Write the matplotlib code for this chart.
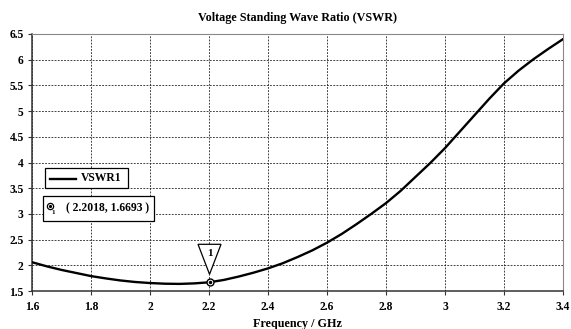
import matplotlib
matplotlib.use("Agg")
import matplotlib.pyplot as plt
from matplotlib.patches import Rectangle, Polygon
from matplotlib.transforms import Affine2D, ScaledTranslation

freq = [1.60, 1.65, 1.70, 1.75, 1.80, 1.85, 1.90, 1.95, 2.00, 2.05, 2.10, 2.15,
        2.20, 2.25, 2.30, 2.35, 2.40, 2.45, 2.50, 2.55, 2.60, 2.65, 2.70, 2.75,
        2.80, 2.85, 2.90, 2.95, 3.00, 3.05, 3.10, 3.15, 3.20, 3.25, 3.30, 3.35, 3.40]
vswr = [2.06, 1.98, 1.91, 1.85, 1.79, 1.745, 1.705, 1.675, 1.655, 1.642, 1.638, 1.648,
        1.669, 1.715, 1.78, 1.855, 1.94, 2.04, 2.16, 2.29, 2.44, 2.61, 2.80, 3.00,
        3.21, 3.45, 3.72, 3.99, 4.28, 4.60, 4.92, 5.24, 5.54, 5.79, 6.01, 6.21, 6.40]
marker_x = 2.2018
marker_y = 1.6693
xticks = [1.6, 1.8, 2.0, 2.2, 2.4, 2.6, 2.8, 3.0, 3.2, 3.4]
xtick_labels = ["1.6", "1.8", "2", "2.2", "2.4", "2.6", "2.8", "3", "3.2", "3.4"]
yticks = [1.5, 2, 2.5, 3, 3.5, 4, 4.5, 5, 5.5, 6, 6.5]
ytick_labels = ["1.5", "2", "2.5", "3", "3.5", "4", "4.5", "5", "5.5", "6", "6.5"]

W, H = 571, 329
plt.rcParams['font.family'] = ['Liberation Serif', 'DejaVu Serif']
plt.rcParams['font.weight'] = 'bold'

fig = plt.figure(figsize=(W / 100, H / 100), dpi=100)
ax = fig.add_axes([32 / W, 1 - 291 / H, (563 - 32) / W, (291 - 34) / H])

ax.plot(freq, vswr, color='black', lw=1.7, solid_capstyle='round', zorder=3)
ax.set_xlim(1.6, 3.4)
ax.set_ylim(1.5, 6.5)
ax.set_xticks(xticks)
ax.set_xticklabels(xtick_labels)
ax.set_yticks(yticks)
ax.set_yticklabels(ytick_labels)
ax.tick_params(axis='both', direction='out', length=3, width=0.8, labelsize=8.3, color='#333333')
ax.tick_params(axis='x', pad=4)
ax.tick_params(axis='y', pad=3)
for lab in ax.get_xticklabels() + ax.get_yticklabels():
    lab.set_fontweight('bold')
ax.grid(True, color='#222222', linestyle=(0, (2.2, 1.6)), linewidth=0.6)
ax.spines['left'].set_color('#333333')
ax.spines['bottom'].set_color('#333333')
ax.spines['left'].set_linewidth(1.1)
ax.spines['bottom'].set_linewidth(1.1)
ax.spines['top'].set_color('#888888')
ax.spines['right'].set_color('#888888')
ax.spines['top'].set_linewidth(0.8)
ax.spines['right'].set_linewidth(0.8)

ax.set_title("Voltage Standing Wave Ratio (VSWR)", fontsize=8.7, fontweight='bold', pad=9)
ax.set_xlabel("Frequency / GHz", fontsize=8.7, fontweight='bold', labelpad=4)

# marker on curve
ax.plot([marker_x], [marker_y], marker='o', ms=5, mfc='white', mec='black', mew=1.0, zorder=5)
ax.plot([marker_x], [marker_y], marker='o', ms=1.5, mfc='black', mec='black', zorder=6)
trans = Affine2D() + ScaledTranslation(marker_x, marker_y, ax.transData)
tri = Polygon([(-11.5, 38), (11.5, 38), (0, 8)], closed=True, facecolor='white',
              edgecolor='black', lw=0.9, transform=trans, zorder=4)
ax.add_patch(tri)
ax.text(0, 29, "1", transform=trans, ha='center', va='center', fontsize=8, zorder=6)

# legend boxes (figure pixel coordinates)
def fx(px):
    return px / W

def fy(py):
    return 1 - py / H

fig.patches.append(Rectangle((fx(45), fy(188)), fx(128) - fx(45), fy(168) - fy(188),
                             transform=fig.transFigure, facecolor='white', edgecolor='black',
                             lw=0.9, zorder=10))
fig.lines.append(plt.Line2D([fx(50), fx(76)], [fy(179), fy(179)], transform=fig.transFigure,
                            color='black', lw=1.7, zorder=11))
fig.text(fx(81), fy(178.5), "VSWR1", fontsize=8.4, fontweight='bold', ha='left', va='center', zorder=11)

fig.patches.append(Rectangle((fx(43), fy(221)), fx(154) - fx(43), fy(196) - fy(221),
                             transform=fig.transFigure, facecolor='white', edgecolor='black',
                             lw=0.9, zorder=10))
fig.lines.append(plt.Line2D([fx(50)], [fy(206)], transform=fig.transFigure, marker='o', ms=4.5,
                            mfc='white', mec='black', mew=0.9, zorder=11))
fig.lines.append(plt.Line2D([fx(50)], [fy(206)], transform=fig.transFigure, marker='o', ms=1.3,
                            mfc='black', mec='black', zorder=12))
fig.text(fx(53.5), fy(213), "1", fontsize=5, ha='center', va='center', zorder=11)
fig.text(fx(66), fy(208), "( 2.2018, 1.6693 )", fontsize=8.4, fontweight='bold', ha='left',
         va='center', zorder=11)

fig.savefig("out.png", dpi=100)
